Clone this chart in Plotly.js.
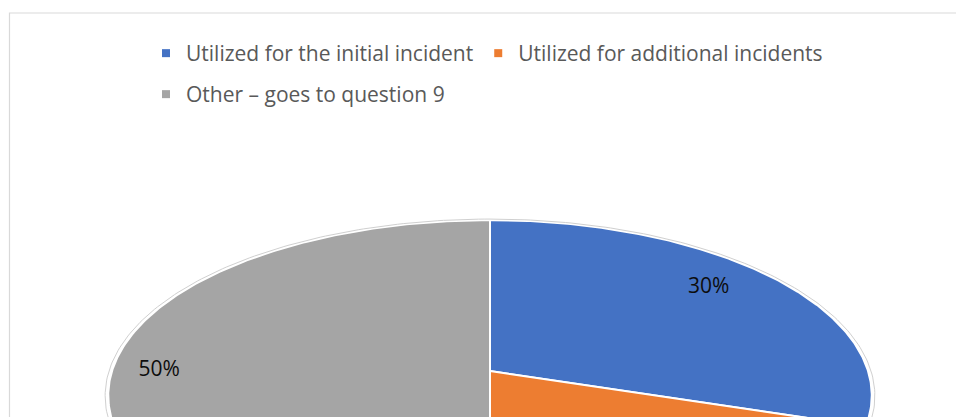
<!DOCTYPE html>
<html><head><meta charset="utf-8">
<script src="https://cdn.plot.ly/plotly-3.0.1.min.js"></script>
<style>html,body{margin:0;padding:0;background:#fff;} #chart{width:956px;height:417px;}</style>
</head><body><div id="chart"></div>
<script>
// ---- data ----
const categories = ['Utilized for the initial incident', 'Utilized for additional incidents', 'Other \u2013 goes to question 9'];
const shares = [30, 20, 50];
const labelTexts = ['30%', '20%', '50%'];

// ---- styles ----
const sliceColors = ['#4472C4', '#ED7D31', '#A5A5A5'];
const labelRadius = [0.76, 0.80, 0.875];
const labelPos = ['top center', 'middle center', 'middle center'];
const legendOf = ['legend', 'legend', 'legend2'];

const W = 956, H = 417;
// pie seen in perspective (tilted disc): vertex position and projection constants, in pixels
const CX = 490, CY = 371, A = 378, B = 172, PERSP = 0.14;

// unit-circle point (angle clockwise from top) -> projected offset from the vertex
function proj(deg, r) {
  const t = deg * Math.PI / 180;
  const u = r * Math.cos(t), v = r * Math.sin(t);
  const d = 1 + PERSP * u;
  return [A * v / d, B * u / d];
}

const total = shares.reduce((a, b) => a + b, 0);
const traces = [];
const lx = [], ly = [], lt = [], lp = [];
let start = 0;
shares.forEach((v, i) => {
  const span = v / total * 360;
  const xs = [0], ys = [0];
  const n = Math.max(4, Math.ceil(span * 2));
  for (let j = 0; j <= n; j++) {
    const p = proj(start + span * j / n, 1);
    xs.push(p[0]); ys.push(p[1]);
  }
  xs.push(0); ys.push(0);
  traces.push({
    type: 'scatter', mode: 'lines', x: xs, y: ys, fill: 'toself',
    fillcolor: sliceColors[i], line: {color: '#ffffff', width: 2},
    showlegend: false, hoverinfo: 'skip'
  });
  const q = proj(start + span / 2, labelRadius[i]);
  // only labels that fall inside the visible part of the chart
  if (q[1] > -(H - CY) + 12) { lx.push(q[0]); ly.push(q[1]); lt.push(labelTexts[i]); lp.push(labelPos[i]); }
  start += span;
});

// faint outer rim
const ox = [], oy = [];
for (let d = 0; d <= 360; d += 1) { const p = proj(d, 1.008); ox.push(p[0]); oy.push(p[1]); }
traces.push({type: 'scatter', mode: 'lines', x: ox, y: oy, line: {color: '#D0D0D0', width: 1},
  showlegend: false, hoverinfo: 'skip'});

// labels
traces.push({
  type: 'scatter', mode: 'text', x: lx, y: ly, text: lt, textposition: lp,
  textfont: {family: '"Open Sans", Lato, sans-serif', size: 21, color: '#0D0D0D'},
  cliponaxis: true, showlegend: false, hoverinfo: 'skip'
});

// legend entries
categories.forEach((c, i) => {
  traces.push({
    type: 'scatter', mode: 'markers', x: [null], y: [null], name: c,
    marker: {symbol: 'square', size: 8, color: sliceColors[i]},
    legend: legendOf[i], showlegend: true, hoverinfo: 'skip'
  });
});

const legendFont = {family: '"Open Sans", Lato, sans-serif', size: 21, color: '#595959'};
const layout = {
  width: W, height: H,
  margin: {l: 0, r: 0, t: 0, b: 0, pad: 0},
  paper_bgcolor: '#ffffff', plot_bgcolor: '#ffffff',
  xaxis: {range: [-CX, W - CX], visible: false, fixedrange: true},
  yaxis: {range: [-(H - CY), CY], visible: false, fixedrange: true},
  legend: {orientation: 'h', x: 146 / W, y: 1 - 33 / H, xanchor: 'left', yanchor: 'top',
    font: legendFont, bgcolor: 'rgba(0,0,0,0)', borderwidth: 0},
  legend2: {orientation: 'h', x: 146 / W, y: 1 - 74 / H, xanchor: 'left', yanchor: 'top',
    font: legendFont, bgcolor: 'rgba(0,0,0,0)', borderwidth: 0},
  shapes: [{type: 'rect', xref: 'paper', yref: 'paper', x0: 9.5 / W, x1: 1.02, y0: -0.05, y1: 1 - 13 / H,
    line: {color: '#D9D9D9', width: 1.2}, fillcolor: 'rgba(0,0,0,0)', layer: 'below'}],
  showlegend: true
};

Plotly.newPlot('chart', traces, layout, {staticPlot: true, displayModeBar: false});
</script>
</body></html>
